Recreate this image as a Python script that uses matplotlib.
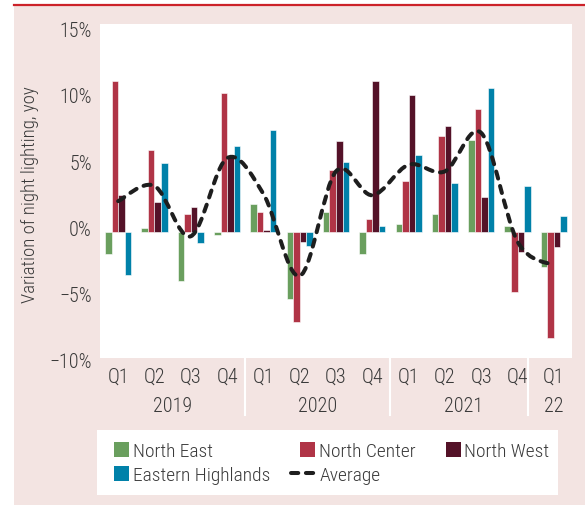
import numpy as np
import matplotlib
matplotlib.use('Agg')
import matplotlib.pyplot as plt
import matplotlib.transforms as mtransforms
from matplotlib.patches import Rectangle, PathPatch
from matplotlib.path import Path
from matplotlib.lines import Line2D
from matplotlib.legend_handler import HandlerPatch

# ── Data (yoy variation of night lighting, %) ─────────────────────────
quarters = ['Q1', 'Q2', 'Q3', 'Q4', 'Q1', 'Q2', 'Q3', 'Q4', 'Q1', 'Q2', 'Q3', 'Q4', 'Q1']
years = ['2019', '2020', '2021', '22']
year_pos = [1.5, 5.5, 9.5, 12]

north_east = [-1.6, 0.3, -3.7, -0.2, 2.1, -5.0, 1.5, -1.6, 0.6, 1.4, 7.0, 0.5, -2.6]
north_center = [11.4, 6.2, 1.4, 10.5, 1.5, -6.8, 4.7, 1.0, 3.9, 7.3, 9.3, -4.5, -8.0]
north_west = [2.8, 2.3, 1.9, 5.7, 0.2, -0.7, 6.9, 11.4, 10.4, 8.0, 2.7, -1.5, -1.1]
eastern_highlands = [-3.2, 5.2, -0.8, 6.5, 7.7, -1.0, 5.3, 0.5, 5.8, 3.7, 10.9, 3.5, 1.2]
average = [2.35, 3.5, -0.3, 5.6, 2.9, -3.3, 4.6, 2.8, 5.1, 4.6, 7.5, -0.7, -2.5]

# ── Style ─────────────────────────────────────────────────────────────
PINK = '#f3e4e2'
RED = '#cc2229'
TXT = '#3a3a3a'
FS = 14.5
colors = ['#6a9f5e', '#b03446', '#541228', '#0081a9']
names = ['North East', 'North Center', 'North West', 'Eastern Highlands']

plt.rcParams['font.family'] = ['Roboto Condensed', 'Roboto', 'DejaVu Sans']
plt.rcParams['font.weight'] = 'light'
plt.rcParams['font.size'] = FS
plt.rcParams['text.color'] = TXT

W, H = 585, 506
def fx(px): return px / W
def fy(py): return 1 - py / H

fig = plt.figure(figsize=(W / 100, H / 100), dpi=100)

# background frame
fig.add_artist(Rectangle((fx(14), 0), 1 - fx(14), fy(7), transform=fig.transFigure,
                         facecolor=PINK, edgecolor='none', zorder=-3))
fig.add_artist(Line2D([fx(14), 1], [fy(6), fy(6)], transform=fig.transFigure,
                      color=RED, lw=1.6, zorder=-3))
fig.add_artist(Rectangle((fx(100), fy(359)), fx(572) - fx(100), fy(25) - fy(359),
                         transform=fig.transFigure, facecolor='white', edgecolor='none', zorder=-2))
fig.add_artist(Rectangle((fx(97), fy(496)), fx(558) - fx(97), fy(431) - fy(496),
                         transform=fig.transFigure, facecolor='white', edgecolor='none', zorder=-2))

# axes: 0% at y=233.3px, 13.25 px per %
y_top, y_bot = 233.3 - 15 * 13.25, 233.3 + 10 * 13.25
ax = fig.add_axes([fx(100), fy(y_bot), fx(572) - fx(100), (y_bot - y_top) / H])
ax.patch.set_visible(False)
for s in ax.spines.values():
    s.set_visible(False)

# ── Bars ──────────────────────────────────────────────────────────────
x = np.arange(len(quarters))
w = 0.18
series = [north_east, north_center, north_west, eastern_highlands]
for i, (vals, c) in enumerate(zip(series, colors)):
    ax.bar(x + (i - 1.5) * w, vals, w, color=c, edgecolor='white', linewidth=0.4, zorder=2)

# ── Smoothed average line (cubic bezier through the points) ──────────
pts = np.column_stack([x, average])
verts = [pts[0]]
codes = [Path.MOVETO]
n = len(pts)
for i in range(n - 1):
    p0 = pts[max(i - 1, 0)]
    p1 = pts[i]
    p2 = pts[i + 1]
    p3 = pts[min(i + 2, n - 1)]
    verts += [p1 + (p2 - p0) / 6, p2 - (p3 - p1) / 6, p2]
    codes += [Path.CURVE4] * 3
dash = (0, (1.8, 1.9))
ax.add_patch(PathPatch(Path(verts, codes), facecolor='none', edgecolor='#1e1e1e',
                       lw=2.9, linestyle=dash, capstyle='round', zorder=3))

ax.set_xlim(-0.5, 12.5)
ax.set_ylim(-10, 15)

# ── Axis labels ───────────────────────────────────────────────────────
ax.set_yticks(range(-10, 16, 5))
ax.set_yticklabels([f'{v}%'.replace('-', '\u2212') for v in range(-10, 16, 5)])
ax.tick_params(axis='y', length=0, pad=6, labelsize=FS, labelcolor=TXT)
shift = mtransforms.ScaledTranslation(0, 5 / 100, fig.dpi_scale_trans)
for lab in ax.get_yticklabels():
    lab.set_transform(lab.get_transform() + shift)

ax.set_xticks(x)
ax.set_xticklabels(quarters)
ax.tick_params(axis='x', length=0, pad=1.5, labelsize=FS, labelcolor=TXT)

trans = mtransforms.blended_transform_factory(ax.transData, ax.transAxes)
def ya(py): return (y_bot - py) / (y_bot - y_top)

for pos, yr in zip(year_pos, years):
    ax.text(pos, ya(406.7), yr, transform=trans, ha='center', va='center', fontsize=FS)

for sx in [3.5, 7.5, 11.3]:
    ax.plot([sx, sx], [ya(359.5), ya(416)], transform=trans, color='white', lw=1.5, clip_on=False)

fig.text(fx(30), fy(195), 'Variation of night lighting, yoy', rotation=90,
         ha='center', va='center', fontsize=13.5)

# ── Legend ────────────────────────────────────────────────────────────
def square(legend, orig_handle, xdescent, ydescent, width, height, fontsize):
    return Rectangle((width - height - xdescent, -ydescent), height, height)

proxies = [Rectangle((0, 0), 1, 1, facecolor=c) for c in colors]
avg_handle = Line2D([], [], color='#1e1e1e', lw=2.9, linestyle=dash, dash_capstyle='round')
handles = [proxies[0], proxies[3], proxies[1], avg_handle, proxies[2]]
labels = [names[0], names[3], names[1], 'Average', names[2]]
fig.legend(handles, labels, ncol=3, frameon=False, loc='upper left',
           bbox_to_anchor=(fx(105), fy(443)), borderpad=0, borderaxespad=0,
           handlelength=1.25, handleheight=0.8, handletextpad=0.2,
           columnspacing=1.05, labelspacing=0.3, fontsize=14,
           handler_map={Rectangle: HandlerPatch(patch_func=square)})

fig.savefig('out.png', dpi=100)
